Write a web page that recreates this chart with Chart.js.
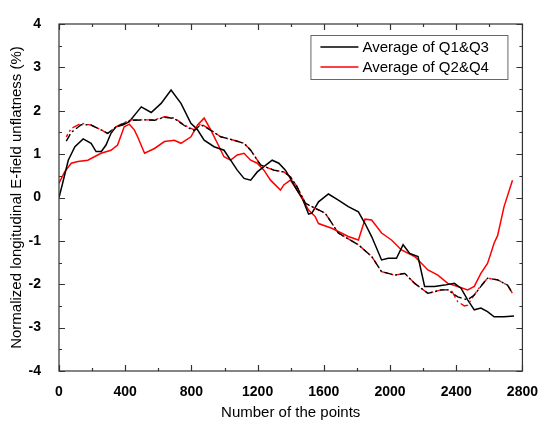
<!DOCTYPE html>
<html>
<head>
<meta charset="utf-8">
<script src="https://cdn.jsdelivr.net/npm/chart.js@4/dist/chart.umd.min.js"></script>
<style>
  html, body { margin: 0; padding: 0; background: #fff; }
  #wrap { width: 543px; height: 422px; }
</style>
</head>
<body>
<div id="wrap"><canvas id="lineChart" width="543" height="422"></canvas></div>
<script>
// Average of Q1&Q3 (black, measured)
let q13X = [0, 20, 56, 96, 146, 194, 224, 256, 284, 314, 344, 385, 425, 465, 497, 557, 617, 677, 737, 797, 837, 877, 937, 997, 1037, 1077, 1118, 1158, 1198, 1238, 1288, 1328, 1368, 1398, 1438, 1468, 1508, 1528, 1568, 1628, 1688, 1748, 1809, 1849, 1889, 1949, 1989, 2039, 2079, 2119, 2169, 2209, 2269, 2329, 2389, 2429, 2469, 2509, 2549, 2589, 2629, 2689, 2749];
let q13Y = [0, 0.3, 0.86, 1.17, 1.35, 1.25, 1.06, 1.06, 1.21, 1.48, 1.63, 1.67, 1.75, 1.94, 2.09, 1.96, 2.17, 2.48, 2.17, 1.71, 1.56, 1.32, 1.17, 1.09, 0.86, 0.63, 0.44, 0.40, 0.59, 0.71, 0.86, 0.79, 0.63, 0.44, 0.17, 0.0, -0.38, -0.36, -0.10, 0.08, -0.06, -0.21, -0.33, -0.60, -0.90, -1.44, -1.40, -1.40, -1.09, -1.29, -1.36, -2.05, -2.05, -2.02, -1.98, -2.09, -2.36, -2.59, -2.55, -2.63, -2.75, -2.75, -2.73];

// Average of Q2&Q4 (red, measured)
let q24X = [0, 34, 74, 114, 174, 214, 254, 314, 354, 394, 425, 455, 475, 517, 577, 637, 697, 737, 797, 837, 877, 917, 957, 997, 1037, 1077, 1118, 1158, 1198, 1238, 1278, 1338, 1358, 1398, 1438, 1468, 1508, 1548, 1568, 1648, 1748, 1809, 1849, 1889, 1949, 2009, 2069, 2149, 2229, 2289, 2349, 2409, 2469, 2509, 2549, 2589, 2609, 2629, 2650, 2689, 2740];
let q24Y = [0.33, 0.59, 0.79, 0.83, 0.86, 0.94, 1.02, 1.09, 1.21, 1.63, 1.69, 1.56, 1.40, 1.02, 1.13, 1.29, 1.32, 1.25, 1.40, 1.67, 1.83, 1.56, 1.25, 0.94, 0.86, 0.98, 1.02, 0.86, 0.79, 0.63, 0.40, 0.17, 0.29, 0.40, 0.17, -0.02, -0.29, -0.44, -0.60, -0.71, -0.90, -0.98, -0.50, -0.52, -0.82, -0.98, -1.21, -1.36, -1.67, -1.79, -1.98, -2.05, -2.13, -2.05, -1.75, -1.52, -1.29, -1.05, -0.88, -0.21, 0.40];

// smoothed fits (dash-dot)
let fit13X = [44, 74, 134, 194, 254, 294, 344, 385, 434, 517, 577, 637, 697, 757, 817, 857, 917, 977, 1057, 1118, 1158, 1218, 1298, 1358, 1398, 1438, 1488, 1548, 1608, 1688, 1809, 1889, 1949, 2029, 2089, 2149, 2229, 2309, 2349, 2409, 2469, 2509, 2549, 2589, 2650, 2710, 2740];
let fit13Y = [1.30, 1.50, 1.68, 1.67, 1.56, 1.48, 1.62, 1.70, 1.78, 1.79, 1.78, 1.85, 1.82, 1.66, 1.54, 1.68, 1.55, 1.40, 1.32, 1.25, 1.09, 0.75, 0.63, 0.59, 0.48, 0.25, -0.13, -0.25, -0.36, -0.82, -1.09, -1.36, -1.71, -1.79, -1.75, -1.98, -2.21, -2.13, -2.13, -2.29, -2.36, -2.25, -2.05, -1.86, -1.90, -2.02, -2.21];
let fit24X = [44, 74, 134, 194, 254, 294, 344, 385, 434, 517, 577, 637, 697, 757, 817, 857, 917, 977, 1057, 1118, 1158, 1218, 1298, 1358, 1398, 1438, 1488, 1548, 1608, 1688, 1809, 1889, 1949, 2029, 2089, 2149, 2229, 2309, 2369, 2409, 2449, 2469, 2529, 2589, 2650, 2710, 2740];
let fit24Y = [1.40, 1.59, 1.71, 1.67, 1.56, 1.48, 1.63, 1.71, 1.79, 1.79, 1.79, 1.86, 1.83, 1.67, 1.56, 1.70, 1.56, 1.40, 1.32, 1.25, 1.09, 0.75, 0.63, 0.59, 0.48, 0.25, -0.13, -0.25, -0.36, -0.82, -1.09, -1.36, -1.71, -1.79, -1.75, -1.98, -2.21, -2.13, -2.13, -2.40, -2.50, -2.48, -2.13, -1.86, -1.90, -2.02, -2.21];

let seriesNames = ['Average of Q1&Q3', 'Average of Q2&Q4'];

let toPoints = function (xs, ys) {
    return xs.map(function (x, i) { return { x: x, y: ys[i] }; });
};

// inward ticks on all four sides + frame + legend box
let frameAndLegend = {
    id: 'frameAndLegend',
    afterDraw: function (chart) {
        let ctx = chart.ctx;
        let a = chart.chartArea;
        let xs = chart.scales.x, ys = chart.scales.y;
        ctx.save();
        ctx.strokeStyle = '#333';
        ctx.lineWidth = 1.2;
        ctx.strokeRect(a.left, a.top, a.right - a.left, a.bottom - a.top);
        ctx.beginPath();
        for (let v = xs.min; v <= xs.max; v += 200) {
            let p = Math.round(xs.getPixelForValue(v)) + 0.5;
            let len = v % 400 === 0 ? 6 : 3;
            ctx.moveTo(p, a.bottom); ctx.lineTo(p, a.bottom - len);
            ctx.moveTo(p, a.top); ctx.lineTo(p, a.top + len);
        }
        for (let v = ys.min; v <= ys.max; v += 0.5) {
            let p = Math.round(ys.getPixelForValue(v)) + 0.5;
            let len = Number.isInteger(v) ? 6 : 3;
            ctx.moveTo(a.left, p); ctx.lineTo(a.left + len, p);
            ctx.moveTo(a.right, p); ctx.lineTo(a.right - len, p);
        }
        ctx.stroke();

        // legend
        let bx = a.right - 212, by = a.top + 11, bw = 197, bh = 44;
        ctx.fillStyle = '#fff';
        ctx.fillRect(bx, by, bw, bh);
        ctx.strokeStyle = '#666';
        ctx.lineWidth = 1;
        ctx.strokeRect(bx + 0.5, by + 0.5, bw, bh);
        ctx.font = '15px "Liberation Sans", Arial, sans-serif';
        ctx.textBaseline = 'middle';
        let cols = ['#000', '#ff0000'];
        for (let i = 0; i < 2; i++) {
            let yy = by + 12 + i * 20;
            ctx.strokeStyle = cols[i];
            ctx.lineWidth = 1.4;
            ctx.beginPath();
            ctx.moveTo(bx + 10, yy); ctx.lineTo(bx + 48, yy);
            ctx.stroke();
            ctx.fillStyle = '#000';
            ctx.fillText(seriesNames[i], bx + 52, yy + 1);
        }
        ctx.restore();
    }
};

let lineChartDraw = function () {
    let painter = document.getElementById('lineChart').getContext('2d');
    window.lineChart = new Chart(painter, {
        type: 'line',
        data: {
            datasets: [{
                label: seriesNames[0] + ' fit',
                data: toPoints(fit13X, fit13Y),
                borderColor: '#000',
                borderWidth: 1.4,
                borderDash: [8, 3, 2, 3],
            }, {
                label: seriesNames[1] + ' fit',
                data: toPoints(fit24X, fit24Y),
                borderColor: '#ff0000',
                borderWidth: 1.4,
                borderDash: [8, 3, 2, 3],
                borderDashOffset: 5,
            }, {
                label: seriesNames[0],
                data: toPoints(q13X, q13Y),
                borderColor: '#000',
                borderWidth: 1.5,
            }, {
                label: seriesNames[1],
                data: toPoints(q24X, q24Y),
                borderColor: '#ff0000',
                borderWidth: 1.5,
            }]
        },
        options: {
            responsive: false,
            animation: false,
            parsing: false,
            elements: { point: { radius: 0 }, line: { tension: 0 } },
            layout: { padding: { top: 24, right: 18, left: 0, bottom: 0 } },
            scales: {
                x: {
                    type: 'linear',
                    min: 0, max: 2800,
                    grid: { display: false },
                    border: { display: false },
                    ticks: {
                        stepSize: 400,
                        padding: 5,
                        color: '#000',
                        callback: function (v) { return String(v); },
                        font: { family: '"Liberation Sans", Arial', size: 14, weight: 'bold' }
                    },
                    title: {
                        display: true,
                        text: 'Number of the points',
                        color: '#000',
                        padding: { top: 4, bottom: 0 },
                        font: { family: '"Liberation Sans", Arial', size: 15 }
                    },
                    afterFit: function (scale) { scale.height = 51; }
                },
                y: {
                    type: 'linear',
                    min: -4, max: 4,
                    grid: { display: false },
                    border: { display: false },
                    ticks: {
                        stepSize: 1,
                        padding: 10,
                        color: '#000',
                        callback: function (v) { return String(v); },
                        font: { family: '"Liberation Sans", Arial', size: 14, weight: 'bold' }
                    },
                    title: {
                        display: true,
                        text: 'Normalized longitudinal E-field unflatness (%)',
                        color: '#000',
                        padding: { top: 8, bottom: 0 },
                        font: { family: '"Liberation Sans", Arial', size: 15 }
                    },
                    afterFit: function (scale) { scale.width = 59; }
                }
            },
            plugins: {
                legend: { display: false },
                tooltip: { enabled: false }
            }
        },
        plugins: [frameAndLegend]
    });
};

window.onload = function () {
    lineChartDraw();
};
</script>
</body>
</html>
